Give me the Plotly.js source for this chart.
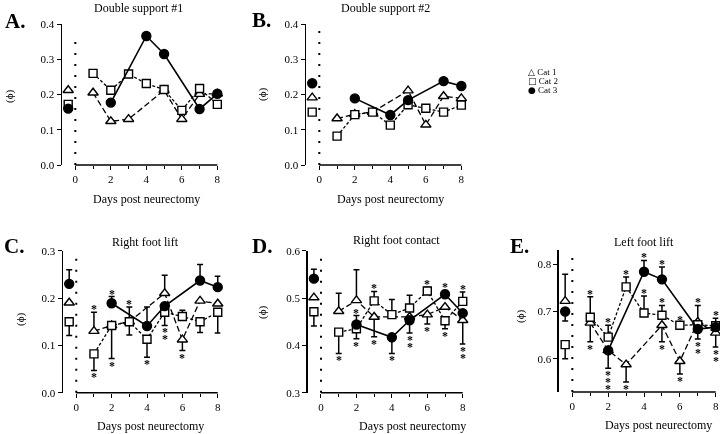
<!DOCTYPE html>
<html><head><meta charset="utf-8">
<script src="https://cdn.plot.ly/plotly-3.0.1.min.js"></script>
<style>html,body{margin:0;padding:0;background:#fff}#chart{width:720px;height:434px;filter:grayscale(1)}</style>
</head><body><div id="chart"></div>
<script>
// ---------------- DATA ----------------
const DAYS = [1, 2, 3, 4, 5, 6, 7, 8];
const CATS = ['Cat 1', 'Cat 2', 'Cat 3'];
const BASELINE_DAY = -0.4;
const X_TICKS = [0, 2, 4, 6, 8];
const PANEL_TITLES = ['Double support #1', 'Double support #2', 'Right foot lift', 'Right foot contact', 'Left foot lift'];
const PANEL_LETTERS = ['A.', 'B.', 'C.', 'D.', 'E.'];
const X_TITLE = 'Days post neurectomy';
const Y_TITLE = '(\u03D5)';

// Panel A (baseline order: Cat 1, Cat 2, Cat 3)
const A_base = [0.212, 0.172, 0.160];
const A_cat1 = [0.205, 0.124, 0.130, null, 0.212, 0.130, 0.201, 0.202];
const A_cat2 = [0.260, 0.212, 0.258, 0.231, 0.214, 0.155, 0.217, 0.172];
const A_cat3 = [null, 0.177, null, 0.366, 0.315, null, 0.159, 0.202];

// Panel B
const B_base = [0.191, 0.150, 0.232];
const B_cat1 = [0.132, 0.144, 0.150, null, 0.211, 0.114, 0.195, 0.189];
const B_cat2 = [0.082, 0.143, 0.150, 0.113, 0.171, 0.161, 0.150, 0.170];
const B_cat3 = [null, 0.189, null, 0.142, 0.184, null, 0.238, 0.224];

// Panel C
const C_base = [0.190, 0.150, 0.230];
const C_base_up = [0, 0, 0.030];
const C_base_dn = [0, 0.029, 0];
const C_cat1 = [0.130, 0.142, 0.150, null, 0.210, 0.112, 0.194, 0.188];
const C_cat1_up = [0.040, 0, 0.031, 0, 0.038, 0, 0, 0];
const C_cat1_dn = [0, 0, 0, 0, 0, 0.023, 0, 0];
const C_cat1_starUp = ['*', '', '*', '', '', '', '', ''];
const C_cat1_starDn = ['', '', '', '', '', '*', '', ''];
const C_cat2 = [0.082, 0.142, 0.150, 0.113, 0.170, 0.161, 0.150, 0.170];
const C_cat2_up = [0, 0, 0, 0, 0, 0.013, 0, 0];
const C_cat2_dn = [0.035, 0.070, 0.028, 0.038, 0.028, 0, 0.023, 0.044];
const C_cat2_starUp = ['', '', '', '', '', '', '', ''];
const C_cat2_starDn = ['*', '*', '', '*', '**', '', '', ''];
const C_cat3 = [null, 0.189, null, 0.141, 0.183, null, 0.237, 0.223];
const C_cat3_up = [0, 0.014, 0, 0.040, 0, 0, 0.034, 0.023];
const C_cat3_dn = [0, 0, 0, 0, 0, 0, 0, 0];
const C_cat3_starUp = ['', '*', '', '', '', '', '', ''];
const C_cat3_starDn = ['', '', '', '', '', '', '', ''];

// Panel D
const D_base = [0.501, 0.471, 0.541];
const D_base_up = [0, 0, 0.020];
const D_base_dn = [0, 0.030, 0];
const D_cat1 = [0.472, 0.495, 0.460, null, 0.460, 0.465, 0.481, 0.453];
const D_cat1_up = [0.038, 0.065, 0, 0, 0, 0, 0, 0];
const D_cat1_dn = [0, 0, 0.042, 0, 0, 0.020, 0, 0.050];
const D_cat1_starUp = ['', '', '', '', '', '', '', ''];
const D_cat1_starDn = ['', '', '*', '', '', '*', '', '**'];
const D_cat2 = [0.428, 0.435, 0.494, 0.465, 0.479, 0.515, 0.452, 0.493];
const D_cat2_up = [0, 0, 0.020, 0.032, 0.027, 0.008, 0, 0.020];
const D_cat2_dn = [0.045, 0.021, 0, 0, 0, 0, 0.017, 0];
const D_cat2_starUp = ['', '', '*', '', '', '*', '', '*'];
const D_cat2_starDn = ['*', '*', '', '', '', '', '*', ''];
const D_cat3 = [null, 0.444, null, 0.417, 0.453, null, 0.508, 0.468];
const D_cat3_up = [0, 0.019, 0, 0, 0, 0, 0.008, 0];
const D_cat3_dn = [0, 0, 0, 0.034, 0.027, 0, 0, 0];
const D_cat3_starUp = ['', '*', '', '', '', '', '*', ''];
const D_cat3_starDn = ['', '', '', '*', '**', '', '', ''];

// Panel E
const E_base = [0.722, 0.630, 0.700];
const E_base_up = [0.057, 0, 0];
const E_base_dn = [0, 0.030, 0.020];
const E_cat1 = [0.676, 0.618, 0.588, null, 0.671, 0.595, 0.678, 0.655];
const E_cat1_up = [0, 0, 0, 0, 0, 0, 0.035, 0];
const E_cat1_dn = [0.040, 0.038, 0.037, 0, 0.035, 0.027, 0, 0.030];
const E_cat1_starUp = ['', '', '', '', '', '', '*', ''];
const E_cat1_starDn = ['*', '***', '*', '', '*', '*', '', '**'];
const E_cat2 = [0.688, 0.646, 0.752, 0.697, 0.692, 0.671, 0.672, 0.670];
const E_cat2_up = [0.043, 0.025, 0.021, 0.036, 0.021, 0.005, 0, 0];
const E_cat2_dn = [0, 0, 0, 0, 0, 0, 0, 0];
const E_cat2_starUp = ['*', '*', '*', '*', '*', '*', '', ''];
const E_cat2_starDn = ['', '', '', '', '', '', '', ''];
const E_cat3 = [null, 0.618, null, 0.784, 0.768, null, 0.663, 0.667];
const E_cat3_up = [0, 0, 0, 0.024, 0.026, 0, 0, 0.019];
const E_cat3_dn = [0, 0, 0, 0, 0, 0, 0.021, 0];
const E_cat3_starUp = ['', '', '', '*', '*', '', '', '*'];
const E_cat3_starDn = ['', '', '', '', '', '', '**', ''];

// ---------------- BUILD ----------------
const W = 720, H = 434;
const FONT = 'Liberation Serif, Times New Roman, serif';
const px = x => x / W;
const py = y => 1 - y / H;

const STYLES = [
  {symbol: 'triangle-up', size: 9, color: '#fff', dash: '6px,3px', width: 1.3},
  {symbol: 'square', size: 8, color: '#fff', dash: '3px,2px', width: 1.3},
  {symbol: 'circle', size: 9, color: '#000', dash: 'solid', width: 1.6}
];

const PANELS = [
  {left: 62, right: 220, top: 24, bottom: 165, yr: [0, 0.4], yt: [0, 0.1, 0.2, 0.3, 0.4], dotTop: 0.92,
   base: A_base, series: [A_cat1, A_cat2, A_cat3],
   title: [138, 8], letter: [15, 21], ytitle: [10, 97], xtitle: [146, 199]},
  {left: 306, right: 464, top: 24, bottom: 165, yr: [0, 0.4], yt: [0, 0.1, 0.2, 0.3, 0.4], dotTop: 1,
   base: B_base, series: [B_cat1, B_cat2, B_cat3],
   title: [385, 8], letter: [261, 20], ytitle: [262, 95], xtitle: [390, 199]},
  {left: 63, right: 220.4, top: 250.7, bottom: 392.7, yr: [0, 0.3], yt: [0, 0.1, 0.2, 0.3], dotTop: 1,
   base: C_base, baseUp: C_base_up, baseDn: C_base_dn,
   series: [C_cat1, C_cat2, C_cat3], up: [C_cat1_up, C_cat2_up, C_cat3_up], dn: [C_cat1_dn, C_cat2_dn, C_cat3_dn],
   sUp: [C_cat1_starUp, C_cat2_starUp, C_cat3_starUp], sDn: [C_cat1_starDn, C_cat2_starDn, C_cat3_starDn],
   title: [145, 242], letter: [14, 245.5], ytitle: [20, 320], xtitle: [150, 426]},
  {left: 307.7, right: 465.4, top: 250.7, bottom: 392.7, yr: [0.3, 0.6], yt: [0.3, 0.4, 0.5, 0.6], dotTop: 1,
   base: D_base, baseUp: D_base_up, baseDn: D_base_dn,
   series: [D_cat1, D_cat2, D_cat3], up: [D_cat1_up, D_cat2_up, D_cat3_up], dn: [D_cat1_dn, D_cat2_dn, D_cat3_dn],
   sUp: [D_cat1_starUp, D_cat2_starUp, D_cat3_starUp], sDn: [D_cat1_starDn, D_cat2_starDn, D_cat3_starDn],
   title: [396, 240], letter: [262, 245.5], ytitle: [262, 313], xtitle: [412, 426]},
  {left: 558.9, right: 718.4, top: 250, bottom: 392, yr: [0.53, 0.83], yt: [0.6, 0.7, 0.8], dotTop: 1,
   base: E_base, baseUp: E_base_up, baseDn: E_base_dn,
   series: [E_cat1, E_cat2, E_cat3], up: [E_cat1_up, E_cat2_up, E_cat3_up], dn: [E_cat1_dn, E_cat2_dn, E_cat3_dn],
   sUp: [E_cat1_starUp, E_cat2_starUp, E_cat3_starUp], sDn: [E_cat1_starDn, E_cat2_starDn, E_cat3_starDn],
   title: [644, 242], letter: [519, 246.5], ytitle: [520, 317], xtitle: [658, 425]}
];

const traces = [];
const layout = {
  width: W, height: H, margin: {l: 0, r: 0, t: 0, b: 0},
  paper_bgcolor: '#fff', plot_bgcolor: 'rgba(0,0,0,0)',
  colorway: ['#000'],
  showlegend: false, font: {family: FONT, color: '#000', size: 11},
  shapes: [], annotations: []
};

const STAR_FIRST = 5, STAR_STEP = 7;

PANELS.forEach((p, i) => {
  const n = i + 1;
  const xa = 'x' + (n === 1 ? '' : n), ya = 'y' + (n === 1 ? '' : n);
  const xk = 'xaxis' + (n === 1 ? '' : n), yk = 'yaxis' + (n === 1 ? '' : n);
  layout[xk] = {
    domain: [px(p.left), px(p.right)], range: [-0.75, 8.15], anchor: ya,
    tickvals: X_TICKS, ticks: 'outside', ticklen: 4, tickwidth: 1, tickcolor: '#000',
    minor: {dtick: 1, tick0: 0, ticks: 'outside', ticklen: 3, tickwidth: 1, tickcolor: '#000'},
    showline: false, zeroline: false, showgrid: false, fixedrange: true,
    tickfont: {family: FONT, size: 11, color: '#000'}
  };
  layout[yk] = {
    domain: [py(p.bottom), py(p.top)], range: p.yr, anchor: xa,
    tickvals: p.yt, tickformat: '.1f', ticks: 'outside', ticklen: 4, tickwidth: 1, tickcolor: '#000',
    showline: true, linewidth: 1.5, linecolor: '#000', zeroline: false, showgrid: false, fixedrange: true,
    tickfont: {family: FONT, size: 11, color: '#000'}
  };
  layout.shapes.push({type: 'line', xref: xa, yref: ya + ' domain', x0: 0, x1: 8, y0: 0, y1: 0,
    line: {color: '#000', width: 1.5}});
  layout.shapes.push({type: 'line', xref: xa, yref: ya + ' domain', x0: 0, x1: 0, y0: 0, y1: p.dotTop,
    line: {color: '#000', width: 2, dash: '2px,9px'}});

  for (let c = 0; c < 3; c++) {
    const s = STYLES[c];
    const marker = {symbol: s.symbol, size: s.size, color: s.color, line: {color: '#000', width: 1.4}};
    const bt = {type: 'scatter', mode: 'markers', x: [BASELINE_DAY], y: [p.base[c]], xaxis: xa, yaxis: ya,
      marker: marker, cliponaxis: false, name: CATS[c], hoverinfo: 'skip'};
    if (p.baseUp) bt.error_y = {type: 'data', symmetric: false, array: [p.baseUp[c]], arrayminus: [p.baseDn[c]],
      color: '#000', thickness: 1.5, width: 3};
    traces.push(bt);
    const t = {type: 'scatter', mode: 'lines+markers', x: DAYS, y: p.series[c], xaxis: xa, yaxis: ya,
      connectgaps: true, line: {color: '#000', width: s.width, dash: s.dash}, marker: marker,
      cliponaxis: false, name: CATS[c], hoverinfo: 'skip'};
    if (p.up) t.error_y = {type: 'data', symmetric: false, array: p.up[c], arrayminus: p.dn[c],
      color: '#000', thickness: 1.5, width: 3};
    traces.push(t);
  }
  // significance asterisks, placed at the error bar ends
  if (p.sUp) {
    for (let c = 0; c < 3; c++) {
      DAYS.forEach((d, k) => {
        const v = p.series[c][k];
        if (v == null) return;
        const su = p.sUp[c][k], sd = p.sDn[c][k];
        for (let j = 0; j < su.length; j++) {
          layout.annotations.push({text: '<b>*</b>', xref: xa, yref: ya, x: d, y: v + p.up[c][k],
            xanchor: 'center', yanchor: 'middle', yshift: STAR_FIRST - 2 + STAR_STEP * j, showarrow: false,
            font: {family: FONT, size: 12, color: '#000'}});
        }
        for (let j = 0; j < sd.length; j++) {
          layout.annotations.push({text: '<b>*</b>', xref: xa, yref: ya, x: d, y: v - p.dn[c][k],
            xanchor: 'center', yanchor: 'middle', yshift: -(STAR_FIRST + 2 + STAR_STEP * j), showarrow: false,
            font: {family: FONT, size: 12, color: '#000'}});
        }
      });
    }
  }

  layout.annotations.push({text: PANEL_TITLES[i], xref: 'paper', yref: 'paper', x: px(p.title[0]), y: py(p.title[1]),
    xanchor: 'center', yanchor: 'middle', showarrow: false, font: {family: FONT, size: 12, color: '#000'}});
  layout.annotations.push({text: '<b>' + PANEL_LETTERS[i] + '</b>', xref: 'paper', yref: 'paper', x: px(p.letter[0]), y: py(p.letter[1]),
    xanchor: 'center', yanchor: 'middle', showarrow: false, font: {family: FONT, size: 21, color: '#000'}});
  layout.annotations.push({text: Y_TITLE, xref: 'paper', yref: 'paper', x: px(p.ytitle[0]), y: py(p.ytitle[1]),
    xanchor: 'center', yanchor: 'middle', textangle: -90, showarrow: false, font: {family: FONT, size: 11, color: '#000'}});
  layout.annotations.push({text: X_TITLE, xref: 'paper', yref: 'paper', x: px(p.xtitle[0]), y: py(p.xtitle[1]),
    xanchor: 'center', yanchor: 'middle', showarrow: false, font: {family: FONT, size: 12, color: '#000'}});
});

// legend
const LEGEND_GLYPHS = ['\u25B3', '\u25A1', '\u25CF'];
CATS.forEach((c, k) => {
  layout.annotations.push({text: "<span style='font-family:DejaVu Sans'><b>" + LEGEND_GLYPHS[k] + '</b></span> ' + c,
    xref: 'paper', yref: 'paper',
    x: px(526), y: py(72 + 9 * k), xanchor: 'left', yanchor: 'middle', showarrow: false,
    font: {family: FONT, size: 9, color: '#000'}});
});

Plotly.newPlot('chart', traces, layout, {staticPlot: true, displayModeBar: false});
</script>
</body></html>
